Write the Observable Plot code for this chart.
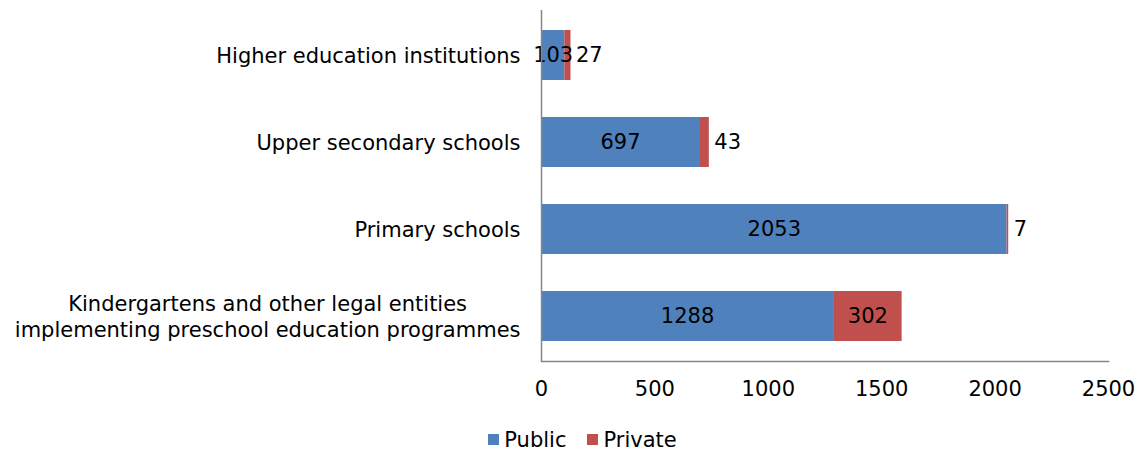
<!DOCTYPE html>
<html>
<head>
<meta charset="utf-8">
<script src="https://cdn.jsdelivr.net/npm/d3@7"></script>
<script src="https://cdn.jsdelivr.net/npm/@observablehq/plot@0.6"></script>
<style>
  html, body { margin: 0; padding: 0; background: #fff; }
  #chart { width: 1139px; font-family: "DejaVu Sans", Verdana, sans-serif; }
  .legend { display: flex; justify-content: center; align-items: center; gap: 21px;
            font-size: 21px; color: #000; height: 41px; margin-top: 9px; margin-left: 26px; }
  .legend span.item { display: inline-flex; align-items: center; }
  .legend span.sw { display: inline-block; width: 11px; height: 11px; margin-right: 5px; }
</style>
</head>
<body>
<div id="chart"></div>
<script>
const categories = [
  "Higher education institutions",
  "Upper secondary schools",
  "Primary schools",
  "Kindergartens and other legal entities\nimplementing preschool education programmes"
];
const publicValues = [103, 697, 2053, 1288];
const privateValues = [27, 43, 7, 302];
const seriesNames = ["Public", "Private"];
const seriesColors = ["#4F81BD", "#C0504D"];
const xTicks = [0, 500, 1000, 1500, 2000, 2500];

const rows = [];
categories.forEach((c, i) => {
  rows.push({category: c, series: "Public", value: publicValues[i]});
  rows.push({category: c, series: "Private", value: privateValues[i]});
});

const publicLabels = categories.map((c, i) => ({category: c, mid: publicValues[i] / 2, label: String(publicValues[i])}));
const privateLabels = categories.map((c, i) => ({category: c, mid: publicValues[i] + privateValues[i] / 2, end: publicValues[i] + privateValues[i], label: String(privateValues[i]), v: privateValues[i]}));

const FS = 21;
const chart = Plot.plot({
  width: 1139,
  height: 410,
  marginLeft: 541,
  marginRight: 31,
  marginTop: 10,
  marginBottom: 49,
  style: {fontFamily: "'DejaVu Sans', Verdana, sans-serif", fontSize: FS + "px", color: "#000", background: "#fff"},
  x: {domain: [0, 2500], ticks: xTicks, label: null},
  y: {domain: categories, paddingInner: 0.43, paddingOuter: 0.215, label: null},
  color: {domain: seriesNames, range: seriesColors},
  marks: [
    Plot.barX(rows, Plot.stackX({y: "category", x: "value", fill: "series", order: seriesNames})),
    Plot.text(publicLabels, {y: "category", x: "mid", text: "label", fill: "#000", fontSize: FS}),
    Plot.text(privateLabels.filter(d => d.v >= 100), {y: "category", x: "mid", text: "label", fill: "#000", fontSize: FS}),
    Plot.text(privateLabels.filter(d => d.v < 100), {y: "category", x: "end", text: "label", fill: "#000", fontSize: FS, textAnchor: "start", dx: 5}),
    Plot.axisX({ticks: xTicks, tickSize: 0, tickPadding: 20, fontSize: FS, tickFormat: d3.format("d"), label: null}),
    Plot.axisY({tickSize: 0, tickPadding: 21, fontSize: FS, lineHeight: 1.25, dy: -1, label: null}),
    Plot.ruleX([0], {stroke: "#868686", strokeWidth: 1.5}),
    Plot.frame({anchor: "bottom", stroke: "#868686", strokeWidth: 1.5})
  ]
});

document.getElementById("chart").appendChild(chart);

// center-align the lines of multi-line category labels (as in the original)
chart.querySelectorAll("g[aria-label='y-axis tick label'] text").forEach(t => {
  const spans = t.querySelectorAll("tspan");
  if (spans.length > 1) {
    const widths = Array.from(spans, s => s.getComputedTextLength());
    const maxW = Math.max(...widths);
    t.setAttribute("text-anchor", "middle");
    const tr = t.getAttribute("transform") || "";
    t.setAttribute("transform", tr + ` translate(${-maxW / 2},0)`);
  }
});

const legend = document.createElement("div");
legend.className = "legend";
seriesNames.forEach((n, i) => {
  const item = document.createElement("span");
  item.className = "item";
  const sw = document.createElement("span");
  sw.className = "sw";
  sw.style.background = seriesColors[i];
  item.appendChild(sw);
  item.appendChild(document.createTextNode(n));
  legend.appendChild(item);
});
document.getElementById("chart").appendChild(legend);
</script>
</body>
</html>
